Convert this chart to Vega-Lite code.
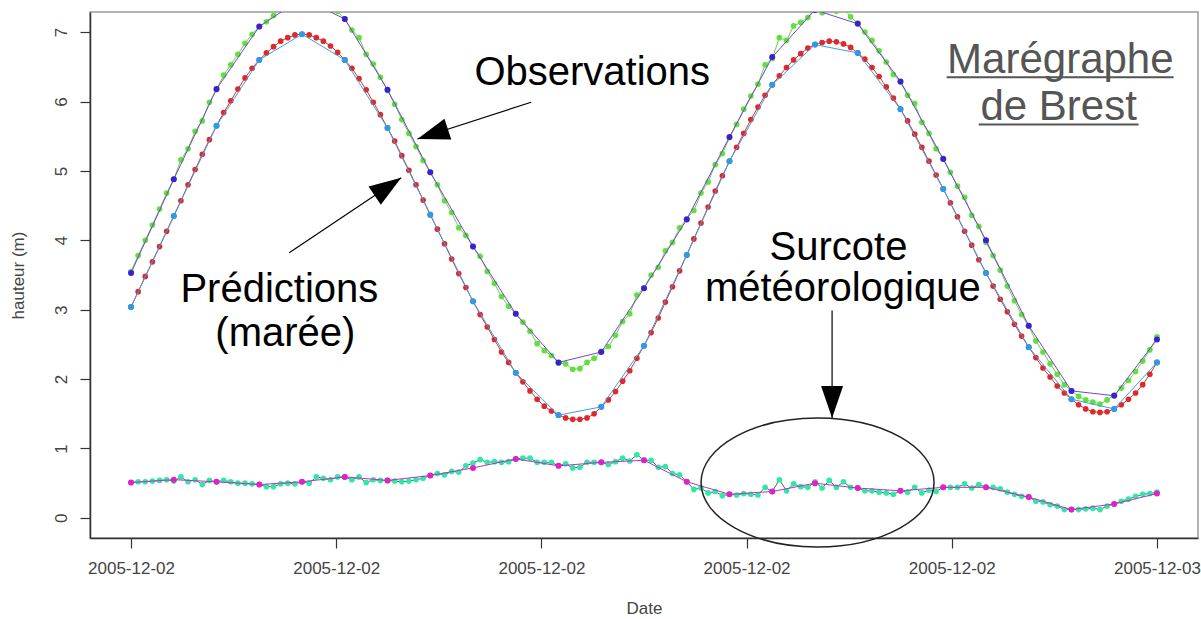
{
"$schema": "https://vega.github.io/schema/vega-lite/v6.json",
"width": 1108, "height": 526,
"autosize": {"type": "none"},
"padding": {"left": 90, "top": 12, "right": 3, "bottom": 81},
"background": "white",
"config": {"view": {"stroke": "#9a9a9a", "strokeWidth": 1.5}, "font": "Liberation Sans"},
"datasets": {
"dense": [
{"t":0,"obs":3.55,"pred":3.04,"sur":0.51},{"t":10,"obs":3.78,"pred":3.26,"sur":0.52},{"t":20,"obs":4.00,"pred":3.48,"sur":0.52},{"t":30,"obs":4.22,"pred":3.69,"sur":0.53},{"t":40,"obs":4.45,"pred":3.91,"sur":0.54},{"t":50,"obs":4.68,"pred":4.13,"sur":0.55},
{"t":60,"obs":4.88,"pred":4.35,"sur":0.53},{"t":70,"obs":5.16,"pred":4.57,"sur":0.59},{"t":80,"obs":5.32,"pred":4.80,"sur":0.52},{"t":90,"obs":5.57,"pred":5.02,"sur":0.55},{"t":100,"obs":5.72,"pred":5.24,"sur":0.48},{"t":110,"obs":5.99,"pred":5.45,"sur":0.54},
{"t":120,"obs":6.17,"pred":5.65,"sur":0.52},{"t":130,"obs":6.38,"pred":5.84,"sur":0.54},{"t":140,"obs":6.53,"pred":6.01,"sur":0.52},{"t":150,"obs":6.68,"pred":6.18,"sur":0.50},{"t":160,"obs":6.84,"pred":6.34,"sur":0.50},{"t":170,"obs":6.97,"pred":6.48,"sur":0.49},
{"t":180,"obs":7.08,"pred":6.60,"sur":0.48},{"t":190,"obs":7.15,"pred":6.70,"sur":0.45},{"t":200,"obs":7.24,"pred":6.79,"sur":0.45},{"t":210,"obs":7.36,"pred":6.87,"sur":0.49},{"t":220,"obs":7.42,"pred":6.92,"sur":0.50},{"t":230,"obs":7.45,"pred":6.96,"sur":0.49},
{"t":240,"obs":7.49,"pred":6.97,"sur":0.52},{"t":250,"obs":7.46,"pred":6.96,"sur":0.50},{"t":260,"obs":7.51,"pred":6.92,"sur":0.59},{"t":270,"obs":7.44,"pred":6.87,"sur":0.57},{"t":280,"obs":7.35,"pred":6.80,"sur":0.55},{"t":290,"obs":7.30,"pred":6.71,"sur":0.59},
{"t":300,"obs":7.19,"pred":6.60,"sur":0.59},{"t":310,"obs":7.03,"pred":6.48,"sur":0.55},{"t":320,"obs":6.92,"pred":6.33,"sur":0.59},{"t":330,"obs":6.68,"pred":6.17,"sur":0.51},{"t":340,"obs":6.54,"pred":5.99,"sur":0.55},{"t":350,"obs":6.35,"pred":5.81,"sur":0.54},
{"t":360,"obs":6.16,"pred":5.62,"sur":0.54},{"t":370,"obs":5.96,"pred":5.43,"sur":0.53},{"t":380,"obs":5.74,"pred":5.22,"sur":0.52},{"t":390,"obs":5.54,"pred":5.01,"sur":0.53},{"t":400,"obs":5.35,"pred":4.80,"sur":0.55},{"t":410,"obs":5.15,"pred":4.58,"sur":0.57},
{"t":420,"obs":4.98,"pred":4.37,"sur":0.61},{"t":430,"obs":4.80,"pred":4.16,"sur":0.64},{"t":440,"obs":4.57,"pred":3.95,"sur":0.62},{"t":450,"obs":4.40,"pred":3.73,"sur":0.67},{"t":460,"obs":4.18,"pred":3.52,"sur":0.66},{"t":470,"obs":4.07,"pred":3.32,"sur":0.75},
{"t":480,"obs":3.91,"pred":3.12,"sur":0.79},{"t":490,"obs":3.77,"pred":2.93,"sur":0.84},{"t":500,"obs":3.55,"pred":2.75,"sur":0.80},{"t":510,"obs":3.38,"pred":2.57,"sur":0.81},{"t":520,"obs":3.19,"pred":2.39,"sur":0.80},{"t":530,"obs":3.05,"pred":2.24,"sur":0.81},
{"t":540,"obs":2.94,"pred":2.09,"sur":0.85},{"t":550,"obs":2.82,"pred":1.96,"sur":0.86},{"t":560,"obs":2.69,"pred":1.83,"sur":0.86},{"t":570,"obs":2.51,"pred":1.71,"sur":0.80},{"t":580,"obs":2.41,"pred":1.61,"sur":0.80},{"t":590,"obs":2.34,"pred":1.54,"sur":0.80},
{"t":600,"obs":2.23,"pred":1.48,"sur":0.75},{"t":610,"obs":2.22,"pred":1.44,"sur":0.78},{"t":620,"obs":2.14,"pred":1.42,"sur":0.72},{"t":630,"obs":2.15,"pred":1.42,"sur":0.73},{"t":640,"obs":2.24,"pred":1.44,"sur":0.80},{"t":650,"obs":2.30,"pred":1.50,"sur":0.80},
{"t":660,"obs":2.40,"pred":1.60,"sur":0.80},{"t":670,"obs":2.47,"pred":1.70,"sur":0.77},{"t":680,"obs":2.63,"pred":1.82,"sur":0.81},{"t":690,"obs":2.83,"pred":1.97,"sur":0.86},{"t":700,"obs":2.94,"pred":2.12,"sur":0.82},{"t":710,"obs":3.21,"pred":2.30,"sur":0.91},
{"t":720,"obs":3.31,"pred":2.48,"sur":0.83},{"t":730,"obs":3.50,"pred":2.67,"sur":0.83},{"t":740,"obs":3.61,"pred":2.88,"sur":0.73},{"t":750,"obs":3.85,"pred":3.11,"sur":0.74},{"t":760,"obs":3.97,"pred":3.33,"sur":0.64},{"t":770,"obs":4.18,"pred":3.56,"sur":0.62},
{"t":780,"obs":4.31,"pred":3.79,"sur":0.52},{"t":790,"obs":4.43,"pred":4.02,"sur":0.41},{"t":800,"obs":4.68,"pred":4.25,"sur":0.43},{"t":810,"obs":4.84,"pred":4.48,"sur":0.36},{"t":820,"obs":5.09,"pred":4.71,"sur":0.38},{"t":830,"obs":5.25,"pred":4.93,"sur":0.32},
{"t":840,"obs":5.48,"pred":5.14,"sur":0.34},{"t":850,"obs":5.67,"pred":5.34,"sur":0.33},{"t":860,"obs":5.89,"pred":5.54,"sur":0.35},{"t":870,"obs":6.08,"pred":5.74,"sur":0.34},{"t":880,"obs":6.25,"pred":5.92,"sur":0.33},{"t":890,"obs":6.53,"pred":6.09,"sur":0.44},
{"t":900,"obs":6.62,"pred":6.24,"sur":0.38},{"t":910,"obs":6.92,"pred":6.37,"sur":0.55},{"t":920,"obs":6.88,"pred":6.49,"sur":0.39},{"t":930,"obs":7.09,"pred":6.60,"sur":0.49},{"t":940,"obs":7.14,"pred":6.69,"sur":0.45},{"t":950,"obs":7.21,"pred":6.77,"sur":0.44},
{"t":960,"obs":7.34,"pred":6.82,"sur":0.52},{"t":970,"obs":7.28,"pred":6.85,"sur":0.43},{"t":980,"obs":7.41,"pred":6.87,"sur":0.54},{"t":990,"obs":7.30,"pred":6.86,"sur":0.44},{"t":1000,"obs":7.35,"pred":6.83,"sur":0.52},{"t":1010,"obs":7.22,"pred":6.78,"sur":0.44},
{"t":1020,"obs":7.13,"pred":6.70,"sur":0.43},{"t":1030,"obs":7.00,"pred":6.61,"sur":0.39},{"t":1040,"obs":6.88,"pred":6.49,"sur":0.39},{"t":1050,"obs":6.73,"pred":6.36,"sur":0.37},{"t":1060,"obs":6.57,"pred":6.21,"sur":0.36},{"t":1070,"obs":6.39,"pred":6.05,"sur":0.34},
{"t":1080,"obs":6.28,"pred":5.89,"sur":0.39},{"t":1090,"obs":6.09,"pred":5.72,"sur":0.37},{"t":1100,"obs":5.97,"pred":5.53,"sur":0.44},{"t":1110,"obs":5.70,"pred":5.34,"sur":0.36},{"t":1120,"obs":5.54,"pred":5.14,"sur":0.40},{"t":1130,"obs":5.32,"pred":4.94,"sur":0.38},
{"t":1140,"obs":5.18,"pred":4.74,"sur":0.44},{"t":1150,"obs":4.98,"pred":4.54,"sur":0.44},{"t":1160,"obs":4.78,"pred":4.34,"sur":0.44},{"t":1170,"obs":4.62,"pred":4.13,"sur":0.49},{"t":1180,"obs":4.36,"pred":3.93,"sur":0.43},{"t":1190,"obs":4.20,"pred":3.72,"sur":0.48},
{"t":1200,"obs":3.97,"pred":3.53,"sur":0.44},{"t":1210,"obs":3.78,"pred":3.34,"sur":0.44},{"t":1220,"obs":3.57,"pred":3.15,"sur":0.42},{"t":1230,"obs":3.34,"pred":2.97,"sur":0.37},{"t":1240,"obs":3.13,"pred":2.79,"sur":0.34},{"t":1250,"obs":2.93,"pred":2.62,"sur":0.31},
{"t":1260,"obs":2.76,"pred":2.46,"sur":0.30},{"t":1270,"obs":2.55,"pred":2.31,"sur":0.24},{"t":1280,"obs":2.39,"pred":2.16,"sur":0.23},{"t":1290,"obs":2.22,"pred":2.03,"sur":0.19},{"t":1300,"obs":2.07,"pred":1.90,"sur":0.17},{"t":1310,"obs":1.92,"pred":1.80,"sur":0.12},
{"t":1320,"obs":1.83,"pred":1.71,"sur":0.12},{"t":1330,"obs":1.75,"pred":1.63,"sur":0.12},{"t":1340,"obs":1.70,"pred":1.57,"sur":0.13},{"t":1350,"obs":1.67,"pred":1.53,"sur":0.14},{"t":1360,"obs":1.64,"pred":1.52,"sur":0.12},{"t":1370,"obs":1.70,"pred":1.53,"sur":0.17},
{"t":1380,"obs":1.77,"pred":1.57,"sur":0.20},{"t":1390,"obs":1.87,"pred":1.63,"sur":0.24},{"t":1400,"obs":1.98,"pred":1.71,"sur":0.27},{"t":1410,"obs":2.11,"pred":1.80,"sur":0.31},{"t":1420,"obs":2.26,"pred":1.92,"sur":0.34},{"t":1430,"obs":2.42,"pred":2.07,"sur":0.35},
{"t":1440,"obs":2.61,"pred":2.24,"sur":0.37}
],
"hourly": [
{"t":0,"obs_h":3.53,"pred_h":3.04,"sur_h":0.51},{"t":60,"obs_h":4.88,"pred_h":4.35,"sur_h":0.55},{"t":120,"obs_h":6.18,"pred_h":5.65,"sur_h":0.52},{"t":180,"obs_h":7.08,"pred_h":6.60,"sur_h":0.48},{"t":240,"obs_h":7.49,"pred_h":6.97,"sur_h":0.52},
{"t":300,"obs_h":7.19,"pred_h":6.60,"sur_h":0.59},{"t":360,"obs_h":6.17,"pred_h":5.62,"sur_h":0.54},{"t":420,"obs_h":4.98,"pred_h":4.37,"sur_h":0.61},{"t":480,"obs_h":3.91,"pred_h":3.12,"sur_h":0.72},{"t":540,"obs_h":2.94,"pred_h":2.09,"sur_h":0.85},
{"t":600,"obs_h":2.24,"pred_h":1.48,"sur_h":0.75},{"t":660,"obs_h":2.39,"pred_h":1.60,"sur_h":0.80},{"t":720,"obs_h":3.31,"pred_h":2.48,"sur_h":0.83},{"t":780,"obs_h":4.30,"pred_h":3.79,"sur_h":0.52},{"t":840,"obs_h":5.49,"pred_h":5.14,"sur_h":0.34},
{"t":900,"obs_h":6.64,"pred_h":6.24,"sur_h":0.38},{"t":960,"obs_h":7.32,"pred_h":6.82,"sur_h":0.50},{"t":1020,"obs_h":7.12,"pred_h":6.70,"sur_h":0.43},{"t":1080,"obs_h":6.29,"pred_h":5.89,"sur_h":0.39},{"t":1140,"obs_h":5.17,"pred_h":4.74,"sur_h":0.44},
{"t":1200,"obs_h":4.00,"pred_h":3.53,"sur_h":0.44},{"t":1260,"obs_h":2.77,"pred_h":2.46,"sur_h":0.30},{"t":1320,"obs_h":1.83,"pred_h":1.71,"sur_h":0.12},{"t":1380,"obs_h":1.76,"pred_h":1.57,"sur_h":0.20},{"t":1440,"obs_h":2.57,"pred_h":2.24,"sur_h":0.35}
],
"labels": [
{"txt":"Observations","t":647.4,"v":6.24,"g":"k"},
{"txt":"Prédictions","t":208.2,"v":3.11,"g":"k"},
{"txt":"(marée)","t":216.6,"v":2.47,"g":"k"},
{"txt":"Surcote","t":993,"v":3.72,"g":"k"},
{"txt":"météorologique","t":999,"v":3.12,"g":"k"},
{"txt":"Marégraphe","t":1304.4,"v":6.41,"g":"grey"},
{"txt":"de Brest","t":1302,"v":5.73,"g":"grey"}
],
"underlines": [
{"t":1144.8,"t2":1463.4,"v":6.35,"v2":6.35},
{"t":1189.8,"t2":1414.2,"v":5.67,"v2":5.67}
],
"arrows": [
{"id":"obs","t":561.6,"v":5.99,"t2":402,"v2":5.46},
{"id":"pred","t":222,"v":3.82,"t2":379.2,"v2":4.90},
{"id":"sur","t":984,"v":2.99,"t2":984,"v2":1.44}
],
"ellipse": [{"t":963.6,"v":0.51}]
},
"encoding": {
"x": {"field":"t","type":"quantitative","scale":{"domain":[-57.6,1497.6],"nice":false,"zero":false},
 "axis":{"title":"Date","values":[0,288,576,864,1152,1440],"labelExpr":"datum.value >= 1440 ? '2005-12-03' : '2005-12-02'","grid":false,"domainColor":"#333","domainWidth":1.5,"tickColor":"#333","tickSize":10,"tickWidth":1.2,"labelFont":"Liberation Sans","labelFontSize":17,"labelColor":"#444","labelPadding":12,"labelFlush":false,"labelOverlap":false,"titleFont":"Liberation Sans","titleFontSize":17,"titleFontWeight":"normal","titleColor":"#444","titlePadding":24}},
"y": {"field":"v","type":"quantitative","scale":{"domain":[-0.29,7.29],"nice":false,"zero":false},
 "axis":{"title":"hauteur (m)","values":[0,1,2,3,4,5,6,7],"grid":false,"domainColor":"#333","domainWidth":1.5,"tickColor":"#333","tickSize":10,"tickWidth":1.2,"labelAngle":-90,"labelAlign":"center","labelBaseline":"bottom","labelFont":"Liberation Sans","labelFontSize":17,"labelColor":"#444","labelPadding":10,"labelFlush":false,"labelOverlap":false,"titleFont":"Liberation Sans","titleFontSize":17,"titleFontWeight":"normal","titleColor":"#444","titlePadding":25}}
},
"layer": [
{"data":{"name":"dense"},"transform":[{"fold":["obs","pred","sur"],"as":["serie","v"]}],
 "mark":{"type":"line","strokeWidth":1,"clip":true},
 "encoding":{"stroke":{"field":"serie","type":"nominal","scale":{"domain":["obs","pred","sur","obs_h","pred_h","sur_h"],"range":["#5fd83a","#e03030","#3d6b6b","#7a3fd8","#3a9ee6","#c030c0"]},"legend":null},"detail":{"field":"serie"}}},
{"data":{"name":"dense"},"transform":[{"fold":["obs","pred","sur"],"as":["serie","v"]}],
 "mark":{"type":"point","filled":true,"size":32,"opacity":1,"strokeWidth":0,"clip":true},
 "encoding":{"fill":{"field":"serie","type":"nominal","scale":{"domain":["obs","pred","sur","obs_h","pred_h","sur_h"],"range":["#5fe03a","#dc2a2a","#2ee8a8","#3d1fd2","#2a9de8","#e020c8"]},"legend":null}}},
{"data":{"name":"hourly"},"transform":[{"fold":["obs_h","pred_h","sur_h"],"as":["serie","v"]}],
 "mark":{"type":"line","strokeWidth":1,"clip":true},
 "encoding":{"stroke":{"field":"serie","type":"nominal","legend":null},"detail":{"field":"serie"}}},
{"data":{"name":"hourly"},"transform":[{"fold":["obs_h","pred_h","sur_h"],"as":["serie","v"]}],
 "mark":{"type":"point","filled":true,"size":36,"opacity":1,"strokeWidth":0,"clip":true},
 "encoding":{"fill":{"field":"serie","type":"nominal","legend":null}}},
{"data":{"name":"labels"},"transform":[{"filter":"datum.g == 'k'"}],
 "mark":{"type":"text","font":"Liberation Sans","fontSize":40,"align":"center","baseline":"alphabetic","color":"#000"},
 "encoding":{"text":{"field":"txt"}}},
{"data":{"name":"labels"},"transform":[{"filter":"datum.g == 'grey'"}],
 "mark":{"type":"text","font":"Liberation Sans","fontSize":42,"align":"center","baseline":"alphabetic","color":"#555"},
 "encoding":{"text":{"field":"txt"}}},
{"data":{"name":"underlines"},
 "mark":{"type":"rule","color":"#555","strokeWidth":2},
 "encoding":{"x2":{"field":"t2"},"y2":{"field":"v2"}}},
{"data":{"name":"arrows"},
 "mark":{"type":"rule","color":"#000","strokeWidth":1.2},
 "encoding":{"x2":{"field":"t2"},"y2":{"field":"v2"}}},
{"data":{"name":"arrows"},"transform":[{"filter":"datum.id == 'obs'"}],
 "mark":{"type":"point","shape":"M0,0L0.6875,2L-0.6875,2Z","size":1024,"angle":252,"filled":true,"color":"#000","opacity":1,"strokeWidth":0},
 "encoding":{"x":{"field":"t2","type":"quantitative"},"y":{"field":"v2","type":"quantitative"}}},
{"data":{"name":"arrows"},"transform":[{"filter":"datum.id == 'pred'"}],
 "mark":{"type":"point","shape":"M0,0L0.6875,2L-0.6875,2Z","size":1024,"angle":56,"filled":true,"color":"#000","opacity":1,"strokeWidth":0},
 "encoding":{"x":{"field":"t2","type":"quantitative"},"y":{"field":"v2","type":"quantitative"}}},
{"data":{"name":"arrows"},"transform":[{"filter":"datum.id == 'sur'"}],
 "mark":{"type":"point","shape":"M0,0L0.6875,2L-0.6875,2Z","size":1024,"angle":180,"filled":true,"color":"#000","opacity":1,"strokeWidth":0},
 "encoding":{"x":{"field":"t2","type":"quantitative"},"y":{"field":"v2","type":"quantitative"}}},
{"data":{"name":"ellipse"},
 "mark":{"type":"point","shape":"M1,0C1,0.3058,0.5523,0.5536,0,0.5536C-0.5523,0.5536,-1,0.3058,-1,0C-1,-0.3058,-0.5523,-0.5536,0,-0.5536C0.5523,-0.5536,1,-0.3058,1,0Z","size":54289,"filled":false,"stroke":"#222","strokeWidth":1.5,"opacity":1}}
]
}
